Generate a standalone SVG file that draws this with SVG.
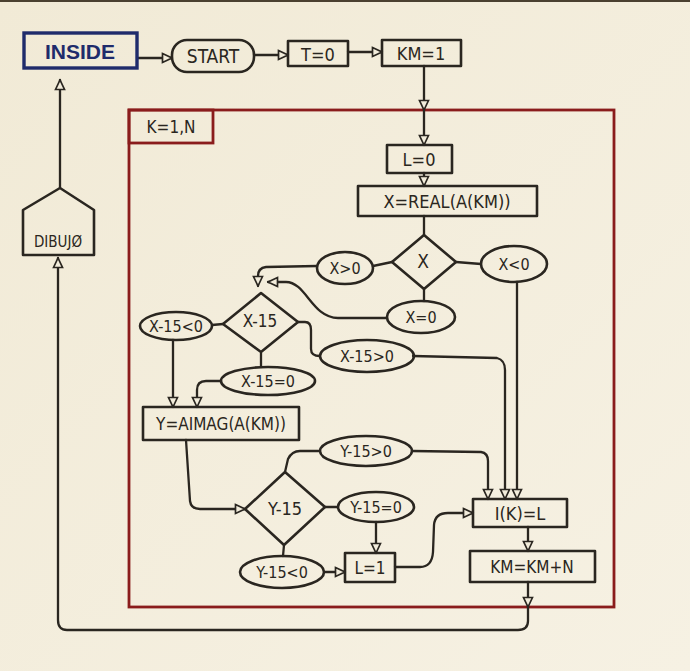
<svg xmlns="http://www.w3.org/2000/svg" width="690" height="671" viewBox="0 0 690 671">
<defs>
<marker id="a" viewBox="0 0 12 12" refX="11" refY="6" markerWidth="12" markerHeight="12" markerUnits="userSpaceOnUse" orient="auto">
<path d="M1.5,1.5 L11,6 L1.5,10.5 Z" fill="#f2ecdb" stroke="#2a2620" stroke-width="1.7"/>
</marker>
<linearGradient id="bg" x1="0" y1="0" x2="1" y2="1">
<stop offset="0" stop-color="#f1ead6"/>
<stop offset="1" stop-color="#f6f1e3"/>
</linearGradient>
</defs>
<style>
.n{fill:none;stroke:#2a2620;stroke-width:2.6;stroke-linejoin:round}
.c{fill:none;stroke:#2a2620;stroke-width:2.3;stroke-linecap:round;stroke-linejoin:round}
.e{marker-end:url(#a)}
.t{font-family:"DejaVu Sans Condensed","Liberation Sans",sans-serif;fill:#2a2620;font-size:16px;text-anchor:middle;dominant-baseline:central}
.red{fill:none;stroke:#8a1c1c;stroke-width:2.8}
</style>
<rect x="0" y="0" width="690" height="671" fill="url(#bg)"/>
<rect x="0" y="0" width="690" height="2" fill="#4a4030"/>

<g id="loop">
<rect class="red" x="129" y="110" width="485" height="497"/>
<rect class="red" x="129" y="110" width="84" height="33"/>
<text class="t" x="171" y="127" style="font-size:17px">K=1,N</text>
</g>

<g id="connectors">
<path class="c e" d="M137,58 L172,58"/>
<path class="c e" d="M254,55 L288,55"/>
<path class="c e" d="M348,52 L382,52"/>
<path class="c e" d="M424,66 L424,110"/>
<path class="c e" d="M424,110 L424,145"/>
<path class="c e" d="M424,173 L424,186"/>
<path class="c" d="M424,216 L424,235"/>
<path class="c" d="M392,262 L373,266"/>
<path class="c" d="M456,262 L481,264"/>
<path class="c" d="M424,289 L424,301"/>
<path class="c e" d="M317,266 L266,267 Q258,268 258,276 L258,286"/>
<path class="c e" d="M387,318 L338,318 C312,318 306,282 286,282 L268,282"/>
<path class="c" d="M223,324 L212,325"/>
<path class="c" d="M298,322 L305,322 Q311,322 311,330 L311,349 Q311,356 320,356"/>
<path class="c" d="M261,353 L261,367"/>
<path class="c e" d="M173,340 L173,407"/>
<path class="c e" d="M221,381 L206,381 Q197,381 197,390 L197,407"/>
<path class="c e" d="M413,356 L497,358 Q505,360 505,370 L505,499"/>
<path class="c e" d="M517,282 L517,499"/>
<path class="c e" d="M186,440 L190,501 Q191,509 200,509 L245,509"/>
<path class="c" d="M285,472 L288,459 Q292,451 300,451 L320,451"/>
<path class="c e" d="M412,451 L481,452 Q488,453 488,461 L488,499"/>
<path class="c" d="M325,507 L338,507"/>
<path class="c e" d="M376,522 L376,553"/>
<path class="c" d="M284,545 L283,556"/>
<path class="c e" d="M324,572 L345,572"/>
<path class="c e" d="M395,567 L420,567 Q432,567 433,552 L434,525 Q435,513 448,513 L473,513"/>
<path class="c e" d="M528,527 L528,551"/>
<path class="c e" d="M528,582 L528,607"/>
<path class="c e" d="M528,607 L528,621 Q528,630 518,630 L67,630 Q58,630 58,620 L58,258"/>
<path class="c e" d="M60,188 L60,80"/>
</g>

<g id="inside">
<rect x="24" y="33" width="113" height="35" fill="none" stroke="#1f2b6b" stroke-width="3.4"/>
<text class="t" x="80" y="51" style="fill:#1f2b6b;font-size:21px;font-weight:bold;font-family:'Liberation Sans',sans-serif">INSIDE</text>
</g>
<g id="start">
<rect class="n" x="172" y="40" width="82" height="32" rx="15"/>
<text class="t" x="213" y="56" style="font-size:19px">START</text>
</g>
<g id="t0">
<rect class="n" x="288" y="41" width="60" height="25"/>
<text class="t" x="318" y="54" style="font-size:18px">T=0</text>
</g>
<g id="km1">
<rect class="n" x="382" y="40" width="79" height="26"/>
<text class="t" x="421" y="53" style="font-size:18px">KM=1</text>
</g>
<g id="l0">
<rect class="n" x="387" y="145" width="65" height="28"/>
<text class="t" x="419" y="159" style="font-size:18px">L=0</text>
</g>
<g id="xreal">
<rect class="n" x="358" y="186" width="179" height="30"/>
<text class="t" x="447" y="201" style="font-size:18px">X=REAL(A(KM))</text>
</g>
<g id="dx">
<polygon class="n" points="424,235 456,262 424,289 392,262"/>
<text class="t" x="423" y="261" style="font-size:19px">X</text>
</g>
<g id="xgt0">
<ellipse class="n" cx="345" cy="268" rx="28" ry="16"/>
<text class="t" x="345" y="268">X&gt;0</text>
</g>
<g id="xlt0">
<ellipse class="n" cx="514" cy="264" rx="33" ry="18"/>
<text class="t" x="514" y="264">X&lt;0</text>
</g>
<g id="xeq0">
<ellipse class="n" cx="421" cy="317" rx="34" ry="16"/>
<text class="t" x="421" y="317">X=0</text>
</g>
<g id="dx15">
<polygon class="n" points="261,293 298,322 261,352 223,324"/>
<text class="t" x="260" y="321" style="font-size:17px">X-15</text>
</g>
<g id="x15lt0">
<ellipse class="n" cx="176" cy="326" rx="36" ry="14"/>
<text class="t" x="176" y="326">X-15&lt;0</text>
</g>
<g id="x15gt0">
<ellipse class="n" cx="367" cy="356" rx="47" ry="16"/>
<text class="t" x="367" y="356">X-15&gt;0</text>
</g>
<g id="x15eq0">
<ellipse class="n" cx="268" cy="381" rx="47" ry="14"/>
<text class="t" x="268" y="381">X-15=0</text>
</g>
<g id="yaimag">
<rect class="n" x="143" y="407" width="156" height="33"/>
<text class="t" x="221" y="424" style="font-size:17px">Y=AIMAG(A(KM))</text>
</g>
<g id="dy15">
<polygon class="n" points="285,472 325,507 284,545 245,509"/>
<text class="t" x="285" y="508" style="font-size:18px">Y-15</text>
</g>
<g id="y15gt0">
<ellipse class="n" cx="366" cy="451" rx="46" ry="15"/>
<text class="t" x="366" y="451">Y-15&gt;0</text>
</g>
<g id="y15eq0">
<ellipse class="n" cx="376" cy="507" rx="38" ry="15"/>
<text class="t" x="376" y="507">Y-15=0</text>
</g>
<g id="y15lt0">
<ellipse class="n" cx="282" cy="572" rx="42" ry="16"/>
<text class="t" x="282" y="572">Y-15&lt;0</text>
</g>
<g id="l1">
<rect class="n" x="345" y="553" width="50" height="29"/>
<text class="t" x="370" y="568" style="font-size:17px">L=1</text>
</g>
<g id="ikl">
<rect class="n" x="473" y="499" width="94" height="28"/>
<text class="t" x="520" y="513" style="font-size:18px">I(K)=L</text>
</g>
<g id="kmn">
<rect class="n" x="470" y="551" width="125" height="31"/>
<text class="t" x="532" y="567" style="font-size:17px">KM=KM+N</text>
</g>
<g id="dibujo">
<polygon class="n" points="60,188 94,210 94,255 23,255 23,210"/>
<text class="t" x="58" y="242" style="font-size:15px">DIBUJØ</text>
</g>
</svg>
